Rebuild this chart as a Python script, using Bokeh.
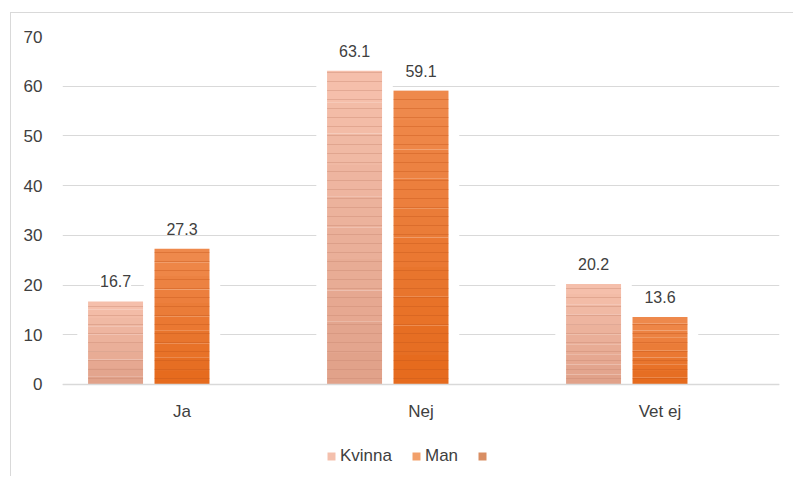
from bokeh.plotting import figure
from bokeh.models import (ColumnDataSource, FactorRange, Range1d, LabelSet, Legend,
                          LegendItem, FixedTicker)
from bokeh.core.properties import value
from bokeh.transform import dodge
from bokeh.embed import file_html
from bokeh.resources import INLINE

categories = ["Ja", "Nej", "Vet ej"]
kvinna = [16.7, 63.1, 20.2]
man = [27.3, 59.1, 13.6]
series_names = ["Kvinna", "Man", ""]
y_ticks = [0, 10, 20, 30, 40, 50, 60, 70]

FONT = "Liberation Sans"
TXT = "#404040"

p = figure(x_range=FactorRange(*categories, range_padding=0), y_range=Range1d(-18.71, 70),
           width=783, height=464,
           output_backend="svg", toolbar_location=None,
           min_border_left=51, min_border_right=15, min_border_top=23, min_border_bottom=0)
p.styles = {"border-top": "1px solid #d9d9d9", "border-left": "1px solid #d9d9d9",
            "margin-left": "10px", "margin-top": "12px"}
p.outline_line_color = None
p.background_fill_color = "white"
p.border_fill_color = "white"

p.ygrid.grid_line_color = "#d9d9d9"
p.ygrid.grid_line_width = 1.2
p.xgrid.grid_line_color = None
p.yaxis.ticker = FixedTicker(ticks=y_ticks)
p.yaxis.axis_line_color = None
p.yaxis.major_tick_line_color = None
p.yaxis.minor_tick_line_color = None
p.yaxis.major_label_standoff = 14
p.yaxis.major_label_text_font = FONT
p.yaxis.major_label_text_font_size = "17px"
p.yaxis.major_label_text_color = TXT
p.xaxis.fixed_location = 0
p.xaxis.axis_line_color = "#d9d9d9"
p.xaxis.axis_line_width = 1.5
p.xaxis.major_tick_line_color = None
p.xaxis.minor_tick_line_color = None
p.xaxis.major_label_standoff = 12
p.xaxis.major_label_text_font = FONT
p.xaxis.major_label_text_font_size = "17px"
p.xaxis.major_label_text_color = TXT

src = ColumnDataSource(dict(cat=categories, kvinna=kvinna, man=man,
                            kl=[f"{v:.1f}" for v in kvinna], ml=[f"{v:.1f}" for v in man]))

OFF = 0.278
W = 0.23
HALO = 0.32

def blend(c1, c2, t):
    a = [int(c1[i:i+2], 16) for i in (1, 3, 5)]
    b = [int(c2[i:i+2], 16) for i in (1, 3, 5)]
    return "#%02x%02x%02x" % tuple(round(a[k] + (b[k] - a[k]) * t) for k in range(3))

def bars(col, off, top_c, bot_c, hatch_c):
    xs = dodge("cat", off, range=p.x_range)
    p.vbar(x=xs, top=col, width=HALO, source=src, fill_color="white", line_color=None)
    N = 10
    vals = src.data[col]
    for k in range(N):
        s = ColumnDataSource(dict(cat=categories,
                                  b=[v * k / N for v in vals],
                                  t=[v * (k + 1) / N for v in vals]))
        p.vbar(x=dodge("cat", off, range=p.x_range), bottom="b", top="t", width=W, source=s,
               fill_color=blend(bot_c, top_c, (k + 0.5) / N), line_color=None)
    p.vbar(x=xs, top=col, width=W, source=src, fill_alpha=0, line_color=None,
           hatch_pattern="horizontal_line", hatch_color=hatch_c, hatch_alpha=0.5,
           hatch_scale=9, hatch_weight=0.8)

bars("kvinna", -OFF, "#f6c1ad", "#e0a088", "#c88670")
bars("man", 0, "#ef8b4f", "#e5691b", "#c5571a")

# legend-only renderers (zero width, invisible in the plot)
lk = p.vbar(x="cat", top="kvinna", width=0, source=src, fill_color="#f4c0ad", line_color=None)
lm = p.vbar(x="cat", top="man", width=0, source=src, fill_color="#f2a06a", line_color=None)
l3 = p.vbar(x="cat", top="man", width=0, source=src, fill_color="#d98e63", line_color=None)

for col, lab, off in (("kvinna", "kl", -OFF), ("man", "ml", 0)):
    p.add_layout(LabelSet(x=dodge("cat", off, range=p.x_range), y=col, text=lab, source=src,
                          text_align="center", text_baseline="bottom", y_offset=14,
                          text_font=value(FONT), text_font_size=value("16px"),
                          text_color=TXT, background_fill_color="white"))

legend = Legend(items=[LegendItem(label=series_names[0], renderers=[lk]),
                       LegendItem(label=series_names[1], renderers=[lm]),
                       LegendItem(label=series_names[2], renderers=[l3])],
                orientation="horizontal", location=(264, 11),
                label_text_font=FONT, label_text_font_size="17px", label_text_color=TXT,
                glyph_width=10, glyph_height=10, label_standoff=4, spacing=19,
                padding=2, margin=0, border_line_color=None, background_fill_alpha=0)
p.add_layout(legend)

open("out.html", "w").write(file_html(p, INLINE))
